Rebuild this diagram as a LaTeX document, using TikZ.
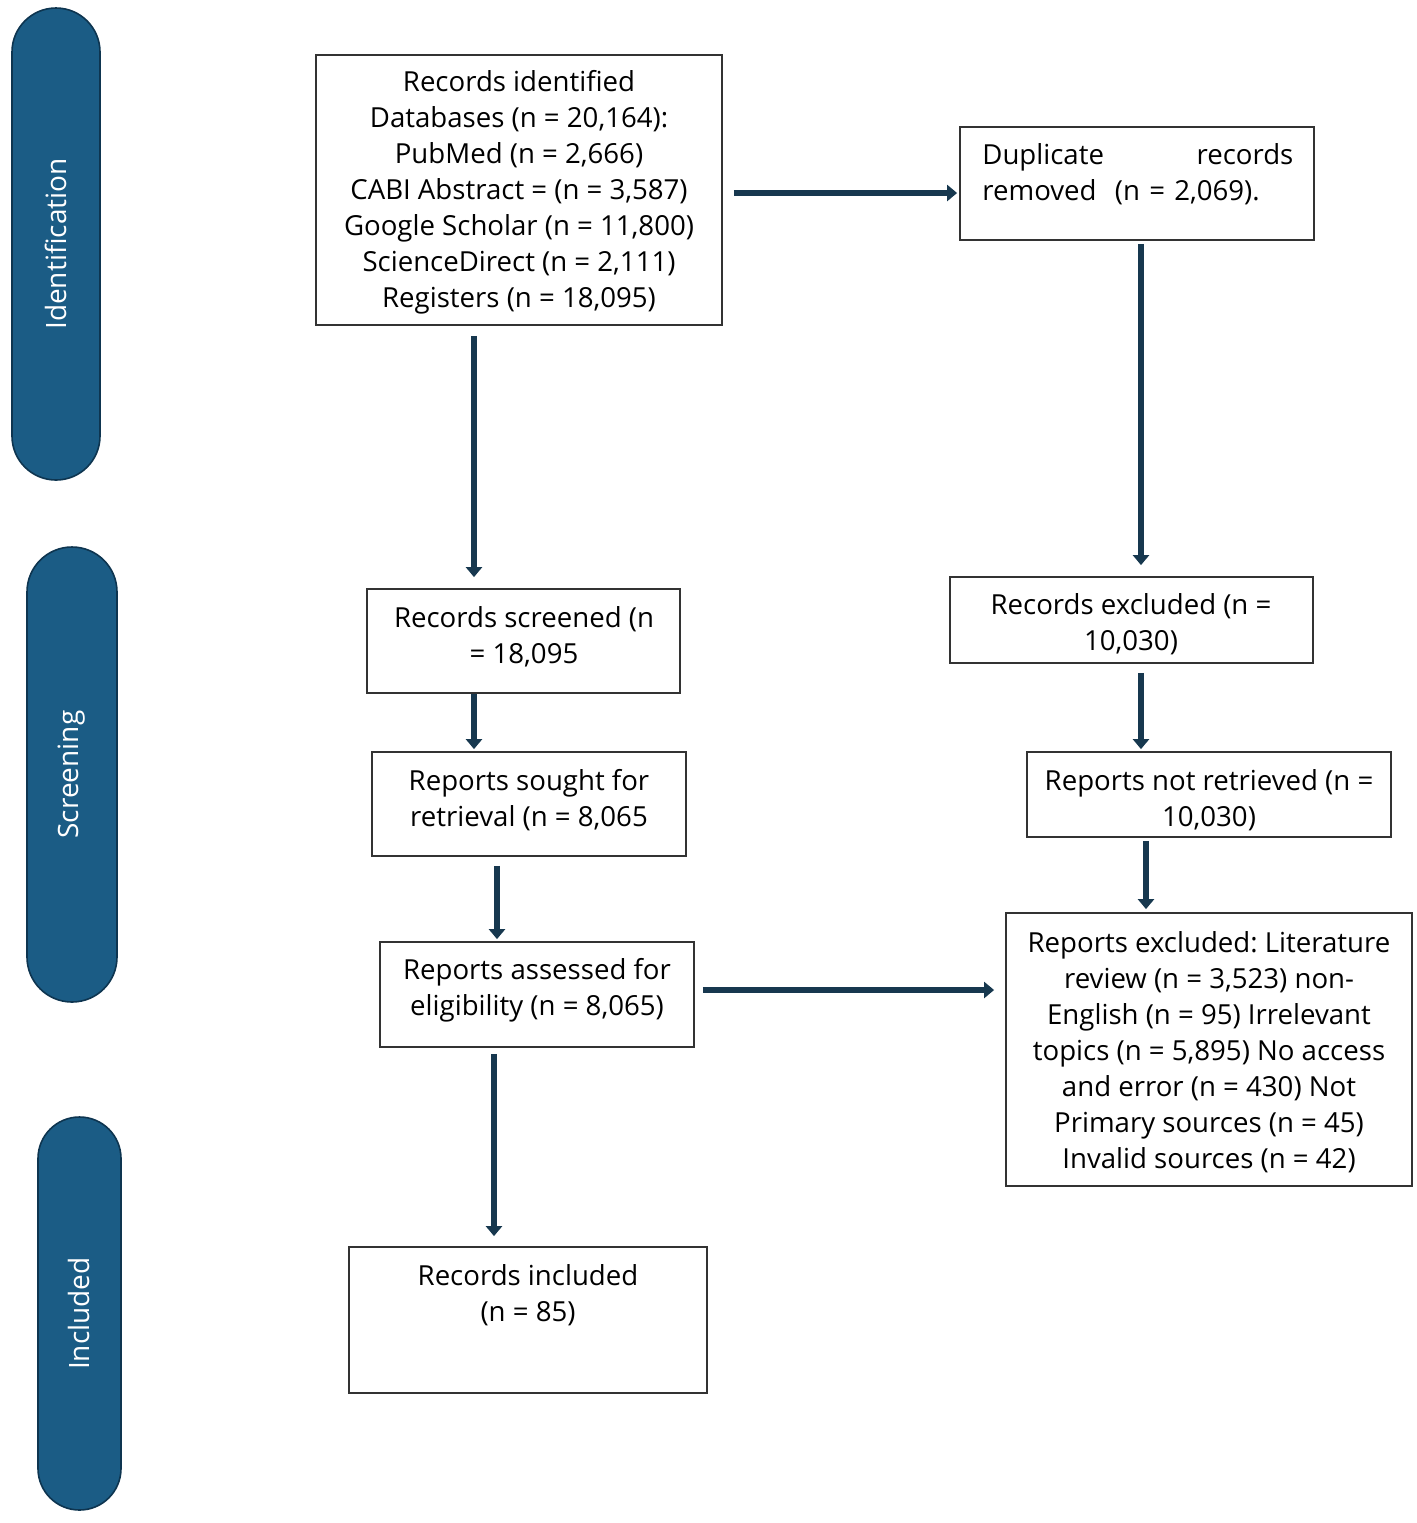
\documentclass[tikz,border=0pt]{standalone}
\usepackage{fontspec}
\setmainfont{Open Sans}
\usetikzlibrary{arrows.meta}
\definecolor{barblue}{HTML}{1B5C85}
\definecolor{barline}{HTML}{0E3550}
\definecolor{arrowc}{HTML}{17384F}
\definecolor{boxline}{HTML}{333333}
\frenchspacing
\begin{document}
\begin{tikzpicture}[x=0.5pt,y=-0.5pt,
  box/.style={draw=boxline,line width=0.9pt,rectangle,inner sep=0pt},
  txt/.style={align=center,inner sep=0pt,font=\fontsize{13.8}{18}\selectfont},
  side/.style={draw=barline,line width=0.8pt,fill=barblue,inner sep=0pt},
  sidetxt/.style={text=white,rotate=90,font=\fontsize{14}{16}\selectfont},
  arr/.style={draw=arrowc,line width=2.8pt,-{Triangle[width=8pt,length=5pt]}}]
\useasboundingbox (0,0) rectangle (1417,1523);
% side bars
\node[side,minimum width=44pt,minimum height=236pt,rounded corners=22pt] (s1) at (56,244) {};
\node[sidetxt] (l1) at (s1.center) {Identification};
\node[side,minimum width=45pt,minimum height=227.5pt,rounded corners=22.5pt] (s2) at (72,774.5) {};
\node[sidetxt] (l2) at (s2.center) {Screening};
\node[side,minimum width=41.5pt,minimum height=196.5pt,rounded corners=20.75pt] (s3) at (79.5,1313.5) {};
\node[sidetxt] (l3) at (s3.center) {Included};
% boxes
\node[box,minimum width=203pt,minimum height=135pt] (b1) at (519,190) {};
\node[txt] (t1) at (519,192) {Records identified\\Databases (n = 20,164):\\PubMed (n = 2,666)\\CABI Abstract = (n = 3,587)\\Google Scholar (n = 11,800)\\ScienceDirect (n = 2,111)\\Registers (n = 18,095)};
\node[box,minimum width=177pt,minimum height=56.5pt] (b2) at (1137,183.5) {};
\node[txt,align=left,text width=155.5pt,anchor=west] (t2) at (982,174.5) {Duplicate\hfill records\\removed~ (n = 2,069).};
\node[box,minimum width=156.5pt,minimum height=52pt] (b3) at (523.5,641) {};
\node[txt] (t3) at (524,637) {Records screened (n\\= 18,095};
\node[box,minimum width=181.5pt,minimum height=43pt] (b4) at (1131.5,620) {};
\node[txt] (t4) at (1131,624.5) {Records excluded (n =\\10,030)};
\node[box,minimum width=157pt,minimum height=52pt] (b5) at (529,804) {};
\node[txt] (t5) at (529,800) {Reports sought for\\retrieval (n = 8,065};
\node[box,minimum width=182pt,minimum height=42.5pt] (b6) at (1209,794.5) {};
\node[txt] (t6) at (1209,800) {Reports not retrieved (n =\\10,030)};
\node[box,minimum width=157pt,minimum height=52.5pt] (b7) at (537,994.5) {};
\node[txt] (t7) at (537,990) {Reports assessed for\\eligibility (n = 8,065)};
\node[box,minimum width=203pt,minimum height=136.5pt] (b8) at (1209,1049.5) {};
\node[txt] (t8) at (1209,1052.5) {Reports excluded: Literature\\review (n = 3,523) non-\\English (n = 95) Irrelevant\\topics (n = 5,895) No access\\and error (n = 430) Not\\Primary sources (n = 45)\\Invalid sources (n = 42)};
\node[box,minimum width=179pt,minimum height=73pt] (b9) at (528,1320) {};
\node[txt] (t9) at (528,1295) {Records included\\(n = 85)};
% arrows
\draw[arr] ([xshift=5.5pt,yshift=-1.5pt]b1.east) -- ([xshift=-1pt,yshift=-4.75pt]b2.west);
\draw[arr] ([xshift=-22.5pt,yshift=-5pt]b1.south) -- ([xshift=-24.75pt,yshift=5.5pt]b3.north);
\draw[arr] ([xshift=2pt,yshift=-1.5pt]b2.south) -- ([xshift=4.75pt,yshift=5.5pt]b4.north);
\draw[arr] ([xshift=-24.75pt]b3.south) -- ([xshift=-27.5pt,yshift=1pt]b5.north);
\draw[arr] ([xshift=4.75pt,yshift=-4.5pt]b4.south) -- ([xshift=-34pt,yshift=1pt]b6.north);
\draw[arr] ([xshift=-16pt,yshift=-4.5pt]b5.south) -- ([xshift=-20pt,yshift=1pt]b7.north);
\draw[arr] ([xshift=-31.5pt,yshift=-1.5pt]b6.south) -- ([xshift=-31.5pt,yshift=1.5pt]b8.north);
\draw[arr] ([xshift=4pt,yshift=2.25pt]b7.east) -- ([xshift=-5.5pt,yshift=29.75pt]b8.west);
\draw[arr] ([xshift=-21.5pt,yshift=-3pt]b7.south) -- ([xshift=-17pt,yshift=5pt]b9.north);
\end{tikzpicture}
\end{document}
